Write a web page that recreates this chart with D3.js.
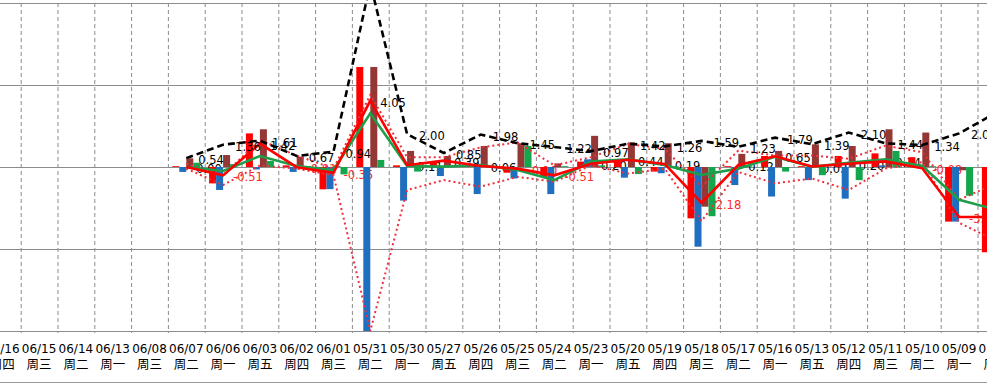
<!DOCTYPE html>
<html>
<head>
  <meta charset="utf-8">
  <script src="https://d3js.org/d3.v7.min.js"></script>
  <style>
    body { margin:0; background:#fff; }
    svg { display:block; }
    .lbl { font-family: "DejaVu Sans"; font-size: 11.5px; }
    .xd text { font-family: "DejaVu Sans"; font-size: 12px; fill:#000; }
    .xw text { font-family: "Noto Sans CJK SC"; font-size: 12.5px; fill:#000; }
    .grid line { stroke:#8c8c8c; }
  </style>
</head>
<body>
  <script>
    // categories, newest first (left), like the source sheet
    var dates = ["06/16","06/15","06/14","06/13","06/08","06/07","06/06","06/03","06/02","06/01",
                 "05/31","05/30","05/27","05/26","05/25","05/24","05/23","05/20","05/19","05/18",
                 "05/17","05/16","05/13","05/12","05/11","05/10","05/09","05/06"];
    var weekdays = ["周四","周三","周二","周一","周三","周二","周一","周五","周四","周三",
                    "周二","周一","周五","周四","周三","周二","周一","周五","周四","周三",
                    "周二","周一","周五","周四","周三","周二","周一","周五"];

    var _ = null;
    var redBar   = [_,_,_,_,_, 0.05,-1.0,2.05,0.1,-1.36, 6.1,0.1,0.33,0.05,-0.35,-0.6,0.33,0.47,-0.28,-3.13, 0.05,0.67,0.05,0.67,0.83,0.6,-3.33,-5.2];
    var blueBar  = [_,_,_,_,_, -0.3,-1.4,-0.15,-0.3,-1.35, -10,-2.05,-0.55,-1.65,-0.7,-1.65,0.47,-0.65,-0.38,-4.86, -1.1,-1.8,-0.8,-1.93,0.1,0.05,-3.33,-2.0];
    var brownBar = [_,_,_,_,_, 0.53,0.73,2.3,0.63,0.05, 6.1,0.98,0.67,1.28,1.45,0.22,1.9,1.5,1.45,-2.42, 0.8,0.98,1.38,1.28,2.3,2.1,-0.2,0.5];
    var greenBar = [_,_,_,_,_, 0.26,0.18,0.37,0.05,-0.45, 0.43,-0.28,0.05,0.05,1.28,0.05,0.1,-0.43,0.05,-3.0, 0.05,-0.28,-0.5,-0.8,0.98,0.05,-1.75,-1.0];

    var redLine   = [_,_,_,_,_, 0.00,-0.51,1.42,-0.01,-0.35, 4.05,0.11,0.39,0.06,-0.10,-0.51,0.20,0.44,0.19,-2.18, 0.12,0.65,0.03,0.20,0.34,-0.08,-3.05,-3.05];
    var greenLine = [_,_,_,_,_, 0.0,-0.24,0.67,0.06,-0.18, 3.27,0.06,0.02,0.12,-0.18,-0.8,0.33,0.47,0.12,-0.49, -0.1,0.63,0.02,0.26,0.47,0.06,-2.0,-2.6];
    var blackLine = [_,_,_,_,_, 0.54,1.36,1.61,0.67,0.94, 11.2,2.00,0.85,1.98,1.45,1.22,0.97,1.42,1.26,1.59, 1.23,1.79,1.39,2.10,1.44,1.34,2.05,3.3];
    var upperDot  = [_,_,_,_,_, 0.2,-0.5,1.65,0.7,-0.1, 4.4,0.6,0.6,1.2,1.5,0.1,0.6,1.4,1.1,-1.2, 1.0,0.7,0.7,0.5,1.3,0.9,-2.0,-1.0];
    var lowerDot  = [_,_,_,_,_, -0.1,-1.1,0.1,-0.1,-0.5, -10,-1.4,-0.8,-1.2,-0.6,-0.9,0.1,-0.4,-0.1,-3.3, -0.3,-1.0,-0.7,-1.4,-0.1,0.3,-3.4,-4.5];

    var yTicks = [-10, -5, 0, 5, 10];

    var width = 987, height = 390;
    var plotTop = 3, plotBottom = 331;

    var svg = d3.select("body").append("svg")
        .attr("width", width)
        .attr("height", height);

    var step = 36.8, x0 = -16.1;
    var x = d3.scaleBand()
        .domain(dates)
        .range([x0, x0 + step * dates.length])
        .padding(0);
    var sub = d3.scaleBand()
        .domain(["red","blue","brown","green"])
        .range([-14, 14]);
    var y = d3.scaleLinear()
        .domain([-10, 10])
        .range([plotBottom, plotTop]);

    var cx = d => x(d) + x.bandwidth() / 2;

    // horizontal grid
    svg.append("g")
        .attr("class", "grid")
        .call(d3.axisLeft(y).tickValues(yTicks).tickSize(-width).tickFormat(""))
        .call(g => g.select(".domain").remove());

    // vertical dashed grid at category boundaries
    svg.append("g").selectAll("line")
        .data(dates)
        .enter().append("line")
        .attr("x1", d => x(d) + 0.5).attr("x2", d => x(d) + 0.5)
        .attr("y1", plotTop).attr("y2", plotBottom + 2)
        .attr("stroke", "#8c8c8c")
        .attr("stroke-dasharray", "4,3");

    // x labels: date row and weekday row
    var dateAxis = svg.append("g")
        .attr("class", "xd")
        .attr("transform", "translate(0,343)")
        .call(d3.axisBottom(x).tickSize(0).tickPadding(0));
    dateAxis.select(".domain").remove();
    dateAxis.selectAll("text").attr("dy", "0.8em");

    var dayAxis = svg.append("g")
        .attr("class", "xw")
        .attr("transform", "translate(0,359)")
        .call(d3.axisBottom(x).tickSize(0).tickPadding(0).tickFormat((d, i) => weekdays[i]));
    dayAxis.select(".domain").remove();
    dayAxis.selectAll("text").attr("dy", "0.8em");

    svg.append("line")
        .attr("x1", 0).attr("x2", width)
        .attr("y1", 382.5).attr("y2", 382.5)
        .attr("stroke", "#999");

    // labels of the red line (sit under the bars in the source)
    var redPts = dates.map((d, i) => ({d: d, v: redLine[i]})).filter(p => p.v !== null);
    svg.append("g").selectAll("text")
        .data(redPts)
        .enter().append("text")
        .attr("class", "lbl")
        .attr("x", p => cx(p.d) + 10)
        .attr("y", p => y(p.v) + 2)
        .attr("dy", "0.35em")
        .style("fill", p => p.v < 0 ? "#ff2a2a" : "#000")
        .text(p => p.v.toFixed(2));

    // bars
    var barSeries = [
        {key: "red", color: "#ff0000", vals: redBar},
        {key: "blue", color: "#1f6fc0", vals: blueBar},
        {key: "brown", color: "#953735", vals: brownBar},
        {key: "green", color: "#14a64c", vals: greenBar}
    ];
    barSeries.forEach(s => {
        var pts = dates.map((d, i) => ({d: d, v: s.vals[i]})).filter(p => p.v !== null);
        svg.append("g").selectAll("rect")
            .data(pts)
            .enter().append("rect")
            .attr("x", p => cx(p.d) + sub(s.key))
            .attr("width", sub.bandwidth())
            .attr("y", p => Math.min(y(p.v), y(0)))
            .attr("height", p => Math.abs(y(p.v) - y(0)))
            .style("fill", s.color);
    });

    var line = vals => d3.line()
        .defined((d, i) => vals[i] !== null)
        .x(d => cx(d))
        .y((d, i) => y(vals[i]))(dates);

    [upperDot, lowerDot].forEach(vals => {
        svg.append("path")
            .attr("d", line(vals))
            .attr("fill", "none")
            .attr("stroke", "#f0303c")
            .attr("stroke-width", 2)
            .attr("stroke-dasharray", "2,3");
    });

    svg.append("path")
        .attr("d", line(greenLine))
        .attr("fill", "none")
        .attr("stroke", "#1e9e4a")
        .attr("stroke-width", 2.6);

    svg.append("path")
        .attr("d", line(redLine))
        .attr("fill", "none")
        .attr("stroke", "#ff0000")
        .attr("stroke-width", 2.6);

    svg.append("path")
        .attr("d", line(blackLine))
        .attr("fill", "none")
        .attr("stroke", "#000")
        .attr("stroke-width", 2.6)
        .attr("stroke-dasharray", "7,4");

    // labels of the dashed line
    var blackPts = dates.map((d, i) => ({d: d, v: blackLine[i]}))
        .filter(p => p.v !== null && p.v <= 10);
    svg.append("g").selectAll("text")
        .data(blackPts)
        .enter().append("text")
        .attr("class", "lbl")
        .attr("x", p => cx(p.d) + 12)
        .attr("y", p => y(p.v) + 2)
        .attr("dy", "0.35em")
        .style("fill", "#000")
        .text(p => p.v.toFixed(2));
  </script>
</body>
</html>
